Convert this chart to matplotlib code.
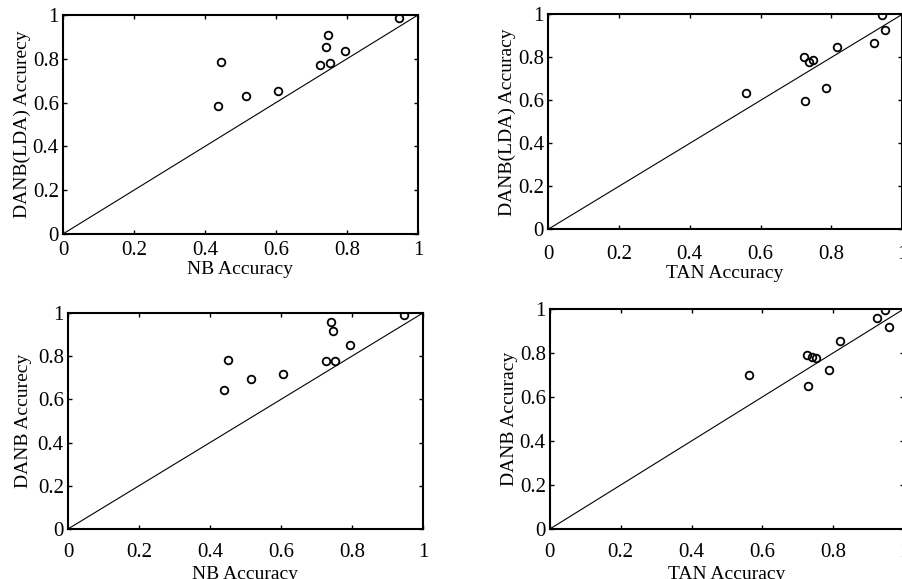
import matplotlib
matplotlib.use("Agg")
import matplotlib.pyplot as plt
import numpy as np

plt.rcParams['font.family'] = ['Liberation Serif', 'DejaVu Serif']

# Panel A: NB vs DANB(LDA)
nb_x_a = [0.437, 0.446, 0.516, 0.606, 0.725, 0.751, 0.740, 0.746, 0.795, 0.946]
lda_y_a = [0.585, 0.787, 0.628, 0.653, 0.772, 0.780, 0.856, 0.909, 0.836, 0.985]

# Panel B: TAN vs DANB(LDA)
tan_x_b = [0.560, 0.725, 0.722, 0.738, 0.748, 0.785, 0.816, 0.922, 0.943, 0.953]
lda_y_b = [0.636, 0.598, 0.802, 0.778, 0.786, 0.659, 0.848, 0.868, 0.998, 0.926]

# Panel C: NB vs DANB
nb_x_c = [0.440, 0.452, 0.516, 0.607, 0.727, 0.753, 0.741, 0.748, 0.795, 0.948]
danb_y_c = [0.645, 0.784, 0.694, 0.717, 0.776, 0.776, 0.957, 0.915, 0.853, 0.989]

# Panel D: TAN vs DANB
tan_x_d = [0.562, 0.728, 0.725, 0.740, 0.752, 0.789, 0.820, 0.924, 0.948, 0.957]
danb_y_d = [0.698, 0.651, 0.792, 0.780, 0.776, 0.724, 0.853, 0.959, 0.994, 0.918]

ticks = [0, 0.2, 0.4, 0.6, 0.8, 1]
tick_labels = ["0", "0.2", "0.4", "0.6", "0.8", "1"]

panels = [
    ([0.0698, 0.596, 0.393, 0.378], nb_x_a, lda_y_a, "NB Accuracy", "DANB(LDA) Accurecy", 5, 1, 1),
    ([0.607, 0.604, 0.392, 0.371], tan_x_b, lda_y_b, "TAN Accuracy", "DANB(LDA) Accuracy", 11, 1, 1),
    ([0.0753, 0.0864, 0.393, 0.373], nb_x_c, danb_y_c, "NB Accuracy", "DANB Accurecy", 10, 3, 4),
    ([0.609, 0.0864, 0.392, 0.380], tan_x_d, danb_y_d, "TAN Accuracy", "DANB Accuracy", 10, 3, 1),
]

fig = plt.figure(figsize=(9.03, 5.79), dpi=100)
for rect, xs, ys, xl, yl, xpad, xlpad, ylpad in panels:
    ax = fig.add_axes(rect)
    ax.plot([0, 1], [0, 1], color='black', lw=0.8)
    ax.plot(xs, ys, linestyle='none', marker='o', markersize=5.5,
            markerfacecolor='none', markeredgecolor='black', markeredgewidth=1.3)
    ax.set_xlim(0, 1)
    ax.set_ylim(0, 1)
    ax.set_xticks(ticks)
    ax.set_xticklabels(tick_labels)
    ax.set_yticks(ticks)
    ax.set_yticklabels(tick_labels)
    ax.tick_params(direction='in', top=True, right=True, length=3, width=1,
                   labelsize=15)
    ax.tick_params(axis='x', pad=xpad)
    ax.tick_params(axis='y', pad=3)
    for s in ax.spines.values():
        s.set_linewidth(1.5)
    ax.set_xlabel(xl, fontsize=14, labelpad=xlpad)
    ax.set_ylabel(yl, fontsize=14, labelpad=ylpad)

fig.savefig("out.png", dpi=100)
